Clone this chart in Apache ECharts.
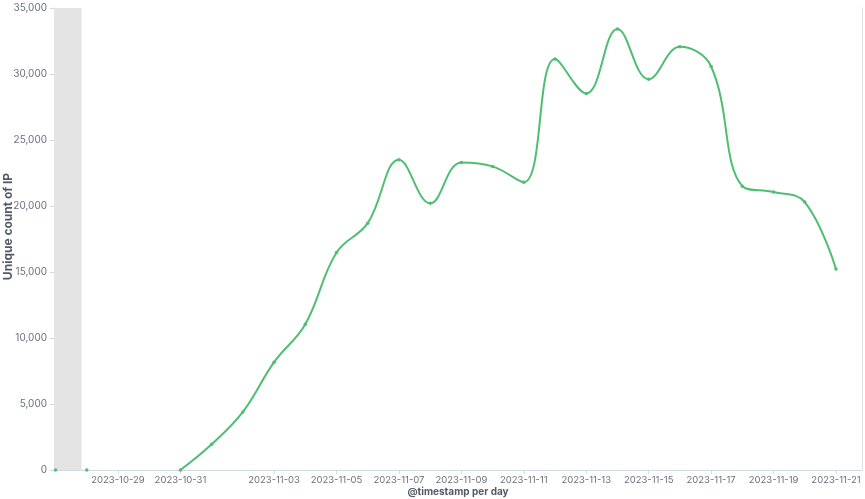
<!DOCTYPE html>
<html>
<head>
<meta charset="utf-8">
<script src="https://cdn.jsdelivr.net/npm/echarts@6/dist/echarts.min.js"></script>
<style>
  html, body { margin: 0; padding: 0; background: #fff; }
  #chart { width: 865px; height: 499px; }
</style>
</head>
<body>
<div id="chart"></div>
<script>
// ---- data ----
const days = [
  '2023-10-27','2023-10-28','2023-10-29','2023-10-30','2023-10-31',
  '2023-11-01','2023-11-02','2023-11-03','2023-11-04','2023-11-05',
  '2023-11-06','2023-11-07','2023-11-08','2023-11-09','2023-11-10',
  '2023-11-11','2023-11-12','2023-11-13','2023-11-14','2023-11-15',
  '2023-11-16','2023-11-17','2023-11-18','2023-11-19','2023-11-20',
  '2023-11-21'
];
const uniqueIP = [
  0, 0, null, null, 0,
  1950, 4400, 8170, 11050, 16470,
  18700, 23500, 20200, 23300, 23000,
  21800, 31130, 28530, 33400, 29600,
  32060, 30570, 21500, 21060, 20300,
  15230
];
const lineStartDay = '2023-10-31';
const xTickDays = [
  '2023-10-29','2023-10-31','2023-11-03','2023-11-05','2023-11-07',
  '2023-11-09','2023-11-11','2023-11-13','2023-11-15','2023-11-17',
  '2023-11-19','2023-11-21'
];
const yTicks = [0, 5000, 10000, 15000, 20000, 25000, 30000, 35000];
const xMin = '2023-10-26T22:48:00Z';
const xMax = '2023-11-21T20:00:00Z';
const rangeStart = '2023-10-27T20:00:00Z';
const xAxisName = '@timestamp per day';
const yAxisName = 'Unique count of IP';

// ---- build ----
const ts = s => Date.parse(s.length === 10 ? s + 'T00:00:00Z' : s);
const startIdx = days.indexOf(lineStartDay);
const allPts = days.map((d, i) => [ts(d), uniqueIP[i]]);
const mainData = allPts.filter((p, i) => i >= startIdx);
const earlyData = allPts.filter((p, i) => i < startIdx && p[1] !== null);
const green = '#4fbe73';
const labelColor = '#69707d';
const axisColor = '#d3dae6';
const font = 'Inter';

const chart = echarts.init(document.getElementById('chart'), null, { renderer: 'canvas' });
chart.setOption({
  animation: false,
  backgroundColor: '#ffffff',
  grid: { left: 54, right: 3, top: 8, bottom: 29, containLabel: false, outerBoundsMode: 'none' },
  xAxis: {
    type: 'value',
    min: ts(xMin),
    max: ts(xMax),
    name: xAxisName,
    nameLocation: 'middle',
    nameGap: 17,
    nameMoveOverlap: false,
    nameTextStyle: { fontFamily: font, fontWeight: 'bold', fontSize: 10, color: '#535966' },
    axisLine: { show: true, lineStyle: { color: axisColor, width: 1 } },
    axisTick: { show: true, length: 4, lineStyle: { color: axisColor }, customValues: xTickDays.map(ts) },
    axisLabel: {
      customValues: xTickDays.map(ts),
      margin: 5,
      interval: 0,
      hideOverlap: false,
      showMinLabel: true, showMaxLabel: true,
      fontFamily: font, fontSize: 9.5, color: labelColor,
      formatter: v => new Date(v).toISOString().slice(0, 10)
    },
    splitLine: { show: false }
  },
  yAxis: [{
    type: 'value',
    min: yTicks[0],
    max: yTicks[yTicks.length - 1],
    interval: yTicks[1] - yTicks[0],
    name: yAxisName,
    nameLocation: 'middle',
    nameGap: 40,
    nameMoveOverlap: false,
    nameTextStyle: { fontFamily: font, fontWeight: 'bold', fontSize: 12, color: '#535966', padding: [0, 0, 0, 25] },
    axisLine: { show: true, lineStyle: { color: axisColor, width: 1 } },
    axisTick: { show: true, length: 4, lineStyle: { color: axisColor } },
    axisLabel: {
      margin: 7,
      fontFamily: font, fontSize: 10, color: labelColor,
      formatter: v => v.toLocaleString('en-US')
    },
    splitLine: { show: false }
  }, {
    type: 'value',
    position: 'right',
    min: yTicks[0],
    max: yTicks[yTicks.length - 1],
    interval: yTicks[1] - yTicks[0],
    axisLine: { show: true, lineStyle: { color: '#e0e0e0', width: 1 } },
    axisTick: { show: false },
    axisLabel: { show: false },
    splitLine: { show: false }
  }],
  series: [{
    name: yAxisName,
    type: 'line',
    data: mainData,
    smooth: 0.4,
    connectNulls: false,
    symbol: 'circle',
    symbolSize: 3.5,
    showSymbol: true,
    itemStyle: { color: green },
    lineStyle: { color: green, width: 2 },
    z: 3,
    markArea: {
      silent: true,
      itemStyle: { color: '#e4e4e4' },
      data: [[{ xAxis: ts(xMin) }, { xAxis: ts(rangeStart) }]]
    }
  }, {
    name: yAxisName,
    type: 'line',
    data: earlyData,
    symbol: 'circle',
    symbolSize: 3.5,
    showSymbol: true,
    itemStyle: { color: green },
    lineStyle: { width: 0, opacity: 0 },
    z: 3
  }]
});
</script>
</body>
</html>
